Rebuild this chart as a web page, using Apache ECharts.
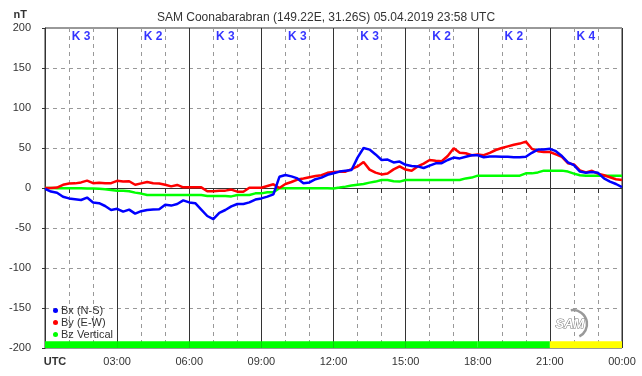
<!DOCTYPE html>
<html>
<head>
<meta charset="utf-8">
<script src="https://cdn.jsdelivr.net/npm/echarts@6/dist/echarts.min.js"></script>
<style>
    html, body { margin: 0; padding: 0; background: #fff; }
    #chart { width: 642px; height: 376px; }
</style>
</head>
<body>
<div id="chart"></div>
<script>
// 15 minute samples, 00:00 .. 24:00 UTC
const bx = [
    -1, -4.5, -6, -11, -13, -14, -15, -12, -18, -19, -22.5, -27.5,
    -26, -29.6, -27, -32, -29, -27.5, -27, -26.7, -21, -22, -20, -15.5,
    -18, -19, -27, -35, -39, -31, -27.5, -23, -20, -20, -18, -14.5,
    -13, -10.8, -8, 14, 16.3, 14.5, 12, 6, 7, 11, 13, 16.5,
    18.5, 20.5, 21.7, 22.5, 38, 50, 48, 42, 35, 35.5, 32, 33,
    29, 27.5, 27, 25, 28, 30.8, 31, 35, 38, 37, 39, 41,
    41, 38.5, 39.5, 39.5, 39, 39, 38.5, 38.3, 39, 44, 48, 48,
    49, 46, 40, 32, 28.5, 20.5, 19, 20, 19, 12, 8, 5,
    1
];
const by = [
    0, 0, 0.5, 4, 5.5, 5.8, 7, 9.2, 6, 6.5, 5.8, 6,
    9, 8, 8.5, 4, 5.8, 7.5, 6, 5.5, 4, 2, 3.8, 0.8,
    0.8, 0.8, 0.8, -4, -4, -3.3, -3.3, -2, -4.6, -4.6, 0.4, 0.4,
    0.4, 2.5, 4.6, 0, 5, 7.5, 10.5, 11.8, 13.5, 15, 16, 19,
    20, 20.4, 20.4, 23.5, 27, 32.5, 23, 19.2, 17, 18, 23.3, 27,
    23, 21.5, 27, 30.5, 35, 34, 33.5, 40, 49.6, 44, 43.5, 41,
    42, 41, 44, 47.5, 50, 52, 54, 55.5, 58, 49, 46, 45,
    45, 42, 39, 31, 29.5, 22, 19.5, 21.5, 18, 16, 13.5, 11,
    10
];
const bz = [
    0, 0, -0.3, -0.3, -0.3, -0.3, -0.3, -0.5, -0.5, -1, -1.5, -2.5,
    -3.3, -3.5, -4, -5.8, -7, -8.8, -8.8, -8.8, -8.8, -8.8, -8.8, -8.8,
    -8.8, -8.8, -8.8, -10, -10, -10, -10, -10.5, -8.8, -8.8, -8.8, -6.7,
    -6.7, -5.4, -5.4, -0.4, -0.4, -0.4, -0.4, -0.4, -0.4, -0.4, -0.4, -0.4,
    -0.5, 0.5, 1.7, 3, 4, 5, 6.7, 8, 10, 10, 8.5, 8,
    10, 10, 10, 10, 10, 10, 10, 10, 10, 10, 12, 13,
    15.4, 15.4, 15.4, 15.4, 15.4, 15.4, 15.4, 15.4, 18.3, 18.3, 19.5, 21.7,
    21.7, 21.7, 21.7, 20.5, 18, 16, 15.4, 15.4, 15.4, 15.4, 15.4, 15.4,
    15.4
];
// K index per 3 hour block
const kIndex = [3, 2, 3, 3, 3, 2, 2, 4];
const xTicks = ['UTC', '03:00', '06:00', '09:00', '12:00', '15:00', '18:00', '21:00', '00:00'];

const chart = echarts.init(document.getElementById('chart'));
const font = '"Liberation Sans", Arial, sans-serif';

function pairs(arr) {
    return arr.map(function (v, i) { return [i * 0.25, v]; });
}

const kAreas = kIndex.map(function (k, i) {
    return [
        { xAxis: i * 3, yAxis: -200, itemStyle: { color: k >= 4 ? '#ffff00' : '#00ff00' } },
        { xAxis: i * 3 + 3, yAxis: -191.5 }
    ];
});

const option = {
    animation: false,
    backgroundColor: '#fff',
    textStyle: { fontFamily: font },
    title: {
        text: 'SAM Coonabarabran (149.22E, 31.26S) 05.04.2019 23:58 UTC',
        left: 321,
        textAlign: 'center',
        top: 7,
        textStyle: { fontSize: 12, fontWeight: 'normal', color: '#333', fontFamily: font }
    },
    legend: {
        orient: 'vertical',
        left: 48,
        top: 300,
        itemWidth: 5,
        itemHeight: 5,
        itemGap: 1,
        icon: 'circle',
        textStyle: { fontSize: 11, color: '#333', padding: [0, 0, 0, -2], fontFamily: font },
        data: ['Bx (N-S)', 'By (E-W)', 'Bz Vertical']
    },
    grid: {
        left: 45, right: 20, top: 28, bottom: 28,
        show: true, borderColor: '#333', borderWidth: 1
    },
    xAxis: {
        type: 'value',
        min: 0, max: 24, interval: 3,
        axisLine: { lineStyle: { color: '#333' } },
        axisTick: { length: 5, lineStyle: { color: '#333' } },
        minorTick: { show: true, splitNumber: 3, length: 5, lineStyle: { color: '#333' } },
        splitLine: { lineStyle: { color: '#333', width: 1 } },
        minorSplitLine: { show: true, lineStyle: { color: '#999', type: [4, 4] } },
        axisLabel: {
            fontSize: 11, color: '#333', margin: 8,
            formatter: function (v) {
                const s = xTicks[Math.round(v / 3)];
                return v === 0 ? '{u|' + s + '}' : s;
            },
            rich: { u: { fontWeight: 'bold', fontSize: 11, color: '#333', padding: [0, 0, 0, 20] } }
        }
    },
    yAxis: {
        type: 'value',
        min: -200, max: 200, interval: 50,
        name: 'nT',
        nameLocation: 'end',
        nameGap: 8,
        nameTextStyle: { fontSize: 11, fontWeight: 'bold', color: '#333', align: 'right', padding: [0, 18, 0, 0] },
        axisLine: { show: true, lineStyle: { color: '#333' } },
        axisTick: { show: true, length: 3, lineStyle: { color: '#333' } },
        splitLine: { lineStyle: { color: '#999', type: [4, 4] } },
        axisLabel: { fontSize: 11, color: '#333', margin: 14 }
    },
    series: [
        {
            name: 'frame',
            type: 'line',
            data: [],
            silent: true,
            z: 1,
            markLine: {
                silent: true,
                z: 1,
                symbol: 'none',
                label: { show: false },
                lineStyle: { color: '#333', type: 'solid', width: 1 },
                data: [{ yAxis: 0 }]
            },
            markArea: {
                silent: true,
                z: 6,
                data: kAreas
            }
        },
        {
            name: 'K',
            type: 'scatter',
            symbolSize: 0,
            silent: true,
            data: kIndex.map(function (k, i) { return [i * 3 + 1.5, 189, k]; }),
            label: {
                show: true,
                position: 'inside',
                formatter: function (p) { return 'K ' + p.value[2]; },
                color: '#0000ff',
                fontWeight: 'bold',
                fontSize: 12,
                fontFamily: font
            }
        },
        {
            name: 'Bz Vertical',
            type: 'line',
            data: pairs(bz),
            showSymbol: false,
            color: '#00ff00',
            lineStyle: { width: 2.5 },
            z: 3
        },
        {
            name: 'By (E-W)',
            type: 'line',
            data: pairs(by),
            showSymbol: false,
            color: '#ff0000',
            lineStyle: { width: 2.5 },
            z: 4
        },
        {
            name: 'Bx (N-S)',
            type: 'line',
            data: pairs(bx),
            showSymbol: false,
            color: '#0000ff',
            lineStyle: { width: 2.5 },
            z: 5
        }
    ],
    graphic: [
        {
            type: 'arc',
            shape: { cx: 573, cy: 324, r: 14, startAngle: -Math.PI * 0.55, endAngle: Math.PI * 0.35 },
            style: { stroke: '#999', lineWidth: 2.5, fill: null },
            z: 10
        },
        {
            type: 'text',
            left: 555,
            top: 317,
            style: {
                text: 'SAM',
                font: 'italic bold 13px "Liberation Sans", Arial, sans-serif',
                fill: '#fff',
                stroke: '#777',
                lineWidth: 1
            },
            z: 11
        }
    ]
};

chart.setOption(option);
</script>
</body>
</html>
